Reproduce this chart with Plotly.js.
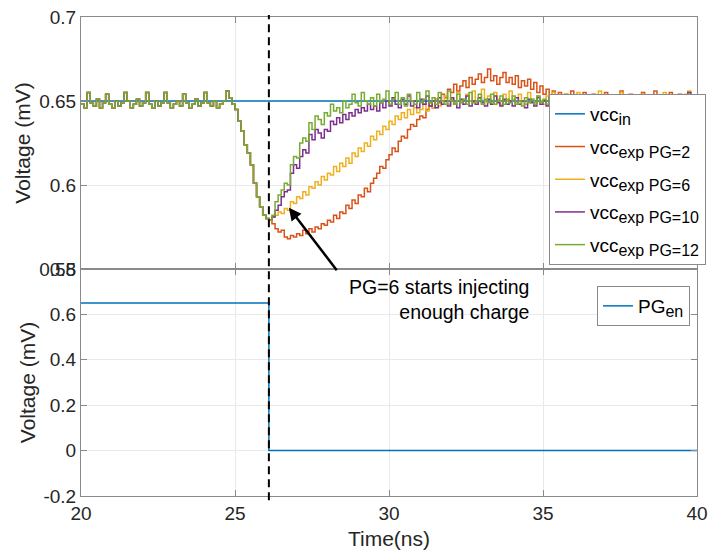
<!DOCTYPE html>
<html>
<head>
<meta charset="utf-8">
<script src="https://cdn.plot.ly/plotly-3.0.1.min.js"></script>
<style>html,body{margin:0;padding:0;background:#fff;}#chart{width:722px;height:554px;}</style>
</head>
<body>
<div id="chart"></div>
<script>
// ---- sampling of the time axis (ns) ----
const tStart = 20;
const tStep = 0.1;
const stepTime = 26.1;

// shared samples (all vcc_exp traces overlap), t = 20.0 .. 26.1
const vccPre = [
  0.648, 0.646, 0.655, 0.649, 0.647, 0.651, 0.646, 0.649, 0.654, 0.648,
  0.646, 0.650, 0.647, 0.649, 0.655, 0.650, 0.646, 0.648, 0.651, 0.647,
  0.649, 0.655, 0.648, 0.646, 0.650, 0.647, 0.649, 0.655, 0.649, 0.646,
  0.648, 0.650, 0.647, 0.654, 0.649, 0.646, 0.648, 0.651, 0.647, 0.649,
  0.655, 0.649, 0.647, 0.650, 0.646, 0.648, 0.650, 0.656, 0.652, 0.648,
  0.645, 0.638, 0.632, 0.624, 0.619, 0.612, 0.601, 0.593, 0.587, 0.582,
  0.580, 0.579
];

// t = 26.2 .. 40.0
const vccPG2 = [
  0.577, 0.574, 0.572, 0.573, 0.569, 0.568, 0.570, 0.569,
  0.571, 0.570, 0.573, 0.571, 0.574, 0.572, 0.575, 0.574, 0.577, 0.576,
  0.579, 0.578, 0.582, 0.580, 0.584, 0.583, 0.588, 0.586, 0.591, 0.589,
  0.594, 0.593, 0.598, 0.596, 0.601, 0.604, 0.607, 0.611, 0.610, 0.615,
  0.618, 0.622, 0.620, 0.626, 0.629, 0.628, 0.633, 0.636, 0.635, 0.639,
  0.641, 0.640, 0.645, 0.647, 0.646, 0.651, 0.649, 0.654, 0.652, 0.657,
  0.655, 0.660, 0.656, 0.659, 0.662, 0.658, 0.664, 0.660, 0.663, 0.666,
  0.661, 0.664, 0.669, 0.662, 0.665, 0.660, 0.664, 0.667, 0.661, 0.664,
  0.660, 0.665, 0.658, 0.662, 0.659, 0.663, 0.657, 0.661, 0.655, 0.659,
  0.654, 0.657, 0.652, 0.656, 0.651, 0.655, 0.650, 0.654, 0.651, 0.656,
  0.650, 0.653, 0.649, 0.655, 0.651, 0.648, 0.654, 0.650, 0.652, 0.649,
  0.655, 0.650, 0.648, 0.653, 0.650, 0.656, 0.651, 0.649, 0.654, 0.650,
  0.652, 0.648, 0.655, 0.650, 0.653, 0.649, 0.656, 0.651, 0.648, 0.653,
  0.650, 0.655, 0.651, 0.649, 0.654, 0.650, 0.648, 0.652, 0.647, 0.645,
  0.649
];

const vccPG6 = [
  0.581, 0.582, 0.584, 0.583, 0.586, 0.585, 0.590, 0.589,
  0.593, 0.592, 0.596, 0.594, 0.599, 0.598, 0.602, 0.600, 0.605, 0.603,
  0.607, 0.606, 0.611, 0.608, 0.613, 0.611, 0.616, 0.613, 0.619, 0.617,
  0.622, 0.620, 0.625, 0.623, 0.629, 0.627, 0.632, 0.630, 0.635, 0.633,
  0.638, 0.636, 0.641, 0.639, 0.643, 0.640, 0.645, 0.642, 0.646, 0.643,
  0.645, 0.648, 0.644, 0.649, 0.646, 0.651, 0.647, 0.650, 0.653, 0.648,
  0.651, 0.649, 0.655, 0.650, 0.648, 0.654, 0.650, 0.656, 0.649, 0.652,
  0.657, 0.650, 0.653, 0.649, 0.655, 0.651, 0.648, 0.654, 0.650, 0.656,
  0.651, 0.649, 0.654, 0.650, 0.648, 0.655, 0.651, 0.649, 0.653, 0.650,
  0.648, 0.653, 0.650, 0.655, 0.649, 0.651, 0.648, 0.654, 0.650, 0.652,
  0.649, 0.655, 0.650, 0.648, 0.653, 0.650, 0.652, 0.649, 0.656, 0.650,
  0.648, 0.653, 0.650, 0.652, 0.649, 0.655, 0.650, 0.648, 0.653, 0.650,
  0.652, 0.649, 0.654, 0.650, 0.648, 0.653, 0.650, 0.652, 0.649, 0.655,
  0.650, 0.648, 0.653, 0.650, 0.652, 0.649, 0.654, 0.656, 0.651, 0.649,
  0.652
];

const vccPG10 = [
  0.581, 0.585, 0.588, 0.593, 0.596, 0.597, 0.607, 0.612,
  0.610, 0.617, 0.621, 0.619, 0.630, 0.627, 0.633, 0.631, 0.628, 0.633,
  0.632, 0.638, 0.636, 0.640, 0.637, 0.642, 0.639, 0.643, 0.641, 0.645,
  0.643, 0.646, 0.644, 0.648, 0.645, 0.647, 0.644, 0.649, 0.646, 0.650,
  0.647, 0.652, 0.648, 0.646, 0.651, 0.648, 0.653, 0.647, 0.650, 0.646,
  0.651, 0.648, 0.653, 0.647, 0.650, 0.646, 0.652, 0.648, 0.650, 0.647,
  0.652, 0.648, 0.646, 0.651, 0.648, 0.653, 0.647, 0.650, 0.648, 0.652,
  0.649, 0.647, 0.651, 0.648, 0.653, 0.649, 0.647, 0.651, 0.648, 0.650,
  0.647, 0.652, 0.648, 0.650, 0.646, 0.651, 0.649, 0.647, 0.652, 0.648,
  0.650, 0.647, 0.652, 0.648, 0.651, 0.646, 0.650, 0.648, 0.652, 0.647,
  0.650, 0.648, 0.653, 0.647, 0.650, 0.648, 0.651, 0.646, 0.652, 0.649,
  0.647, 0.651, 0.648, 0.652, 0.647, 0.650, 0.648, 0.653, 0.649, 0.647,
  0.651, 0.648, 0.650, 0.646, 0.652, 0.649, 0.647, 0.651, 0.648, 0.653,
  0.649, 0.647, 0.650, 0.648, 0.652, 0.647, 0.651, 0.655, 0.650, 0.648,
  0.651
];

const vccPG12 = [
  0.582, 0.590, 0.594, 0.597, 0.601, 0.600, 0.612, 0.617,
  0.616, 0.625, 0.628, 0.626, 0.637, 0.633, 0.641, 0.639, 0.636, 0.643,
  0.641, 0.648, 0.644, 0.646, 0.643, 0.650, 0.646, 0.648, 0.654, 0.649,
  0.647, 0.655, 0.650, 0.648, 0.652, 0.647, 0.654, 0.649, 0.651, 0.656,
  0.648, 0.651, 0.655, 0.648, 0.652, 0.647, 0.654, 0.650, 0.648, 0.655,
  0.649, 0.651, 0.656, 0.649, 0.652, 0.648, 0.655, 0.650, 0.648, 0.656,
  0.650, 0.648, 0.654, 0.649, 0.651, 0.648, 0.655, 0.649, 0.650, 0.654,
  0.648, 0.651, 0.649, 0.654, 0.648, 0.650, 0.653, 0.648, 0.651, 0.649,
  0.653, 0.648, 0.650, 0.647, 0.652, 0.649, 0.651, 0.648, 0.653, 0.649,
  0.651, 0.648, 0.653, 0.649, 0.650, 0.647, 0.652, 0.649, 0.651, 0.648,
  0.653, 0.649, 0.650, 0.647, 0.652, 0.648, 0.651, 0.649, 0.653, 0.648,
  0.650, 0.647, 0.652, 0.649, 0.651, 0.648, 0.653, 0.649, 0.650, 0.647,
  0.652, 0.648, 0.651, 0.649, 0.653, 0.648, 0.650, 0.647, 0.652, 0.649,
  0.651, 0.648, 0.653, 0.649, 0.650, 0.647, 0.652, 0.654, 0.649, 0.651,
  0.650
];

// reference input and enable signal
const vccInT = [20, 40];
const vccInV = [0.65, 0.65];
const pgEnT = [20, stepTime, 40];
const pgEnV = [0.65, 0, 0];

const xTicks = [20, 25, 30, 35, 40];
const yTopTicks = [0.55, 0.6, 0.65, 0.7];
const yTopLabels = ['0.55', '0.6', '0.65', '0.7'];
const yBotTicks = [-0.2, 0, 0.2, 0.4, 0.6, 0.8];
const yBotLabels = ['-0.2', '0', '0.2', '0.4', '0.6', '0.8'];

const baseNames = ['vcc', 'vcc', 'vcc', 'vcc', 'vcc', 'PG'];
const subNames = ['in', 'exp PG=2', 'exp PG=6', 'exp PG=10', 'exp PG=12', 'en'];
const colors = ['#0072BD', '#D95319', '#EDB120', '#7E2F8E', '#77AC30'];

function legendName(i) {
  return baseNames[i] + '<sub><span style="font-size:16px">' + subNames[i] + '</span></sub>';
}

const nAll = vccPre.length + vccPG2.length;
const tAll = Array.from({length: nAll}, (_, i) => +(tStart + i * tStep).toFixed(1));

function expTrace(tail, idx) {
  return {
    x: tAll, y: vccPre.concat(tail), type: 'scatter', mode: 'lines',
    line: {color: colors[idx], width: 1.5, shape: 'hv'},
    name: legendName(idx), legendgroup: 'g' + idx,
    xaxis: 'x', yaxis: 'y', legend: 'legend'
  };
}

const traces = [
  {x: vccInT, y: vccInV, type: 'scatter', mode: 'lines', line: {color: colors[0], width: 1.5},
   name: legendName(0), legendgroup: 'g0', xaxis: 'x', yaxis: 'y', legend: 'legend'},
  expTrace(vccPG2, 1),
  expTrace(vccPG6, 2),
  expTrace(vccPG10, 3),
  expTrace(vccPG12, 4),
  {x: pgEnT, y: pgEnV, type: 'scatter', mode: 'lines', line: {color: colors[0], width: 1.5, shape: 'hv'},
   name: legendName(5), xaxis: 'x2', yaxis: 'y2', legend: 'legend2'}
];

const font = {family: 'Liberation Sans, Arial, sans-serif', size: 19, color: '#262626'};
const titleFont = {family: font.family, size: 21, color: '#262626'};
const split = 0.4739;
const axCommon = {
  showline: true, linecolor: '#8a8a8a', linewidth: 1, mirror: 'ticks',
  ticks: 'inside', ticklen: 6, tickcolor: '#8a8a8a',
  showgrid: true, gridcolor: '#e9e9e9', zeroline: false,
  tickfont: font
};

const layout = {
  width: 722, height: 554,
  margin: {l: 81, r: 25, t: 17, b: 58},
  paper_bgcolor: '#fff', plot_bgcolor: '#fff',
  font: font,
  showlegend: true,
  xaxis: Object.assign({}, axCommon, {domain: [0, 1], range: [20, 40], anchor: 'y',
    tickvals: xTicks, showticklabels: false}),
  yaxis: Object.assign({}, axCommon, {domain: [split, 1], range: [0.55, 0.7], anchor: 'x',
    tickvals: yTopTicks, ticktext: yTopLabels,
    title: {text: 'Voltage (mV)', font: titleFont, standoff: 2}}),
  xaxis2: Object.assign({}, axCommon, {domain: [0, 1], range: [20, 40], anchor: 'y2',
    tickvals: xTicks, ticktext: xTicks.map(String),
    title: {text: 'Time(ns)', font: titleFont, standoff: 8}}),
  yaxis2: Object.assign({}, axCommon, {domain: [0, split], range: [-0.2, 0.8], anchor: 'x2',
    tickvals: yBotTicks, ticktext: yBotLabels,
    title: {text: 'Voltage (mV)', font: titleFont, standoff: 2}}),
  legend: {x: 0.7597, y: 0.8393, xanchor: 'left', yanchor: 'top', bgcolor: '#fff',
    bordercolor: '#8a8a8a', borderwidth: 1, font: {family: font.family, size: 19, color: '#000'},
    itemwidth: 30, traceorder: 'grouped', tracegroupgap: 5},
  legend2: {x: 0.8377, y: 0.4384, xanchor: 'left', yanchor: 'top', bgcolor: '#fff',
    bordercolor: '#8a8a8a', borderwidth: 1, font: {family: font.family, size: 19, color: '#000'},
    itemwidth: 30},
  shapes: [
    {type: 'line', xref: 'x', yref: 'paper', x0: stepTime, x1: stepTime, y0: -0.009, y1: 1.004,
     line: {color: '#000', width: 2, dash: '8px,5px'}, layer: 'above'}
  ],
  annotations: [
    {xref: 'x', yref: 'y', x: 26.75, y: 0.5865, text: '', showarrow: true,
     axref: 'pixel', ayref: 'pixel', ax: 49, ay: 64,
     arrowhead: 2, arrowsize: 1, arrowwidth: 2.5, arrowcolor: '#000', standoff: 0},
    {xref: 'x2', yref: 'y2', x: 34.6, y: 0.665, xanchor: 'right', yanchor: 'middle',
     text: 'PG=6 starts injecting<br>enough charge', align: 'right', showarrow: false,
     font: {family: font.family, size: 19.5, color: '#000'}}
  ]
};

Plotly.newPlot('chart', traces, layout, {displayModeBar: false, staticPlot: true});
</script>
</body>
</html>
